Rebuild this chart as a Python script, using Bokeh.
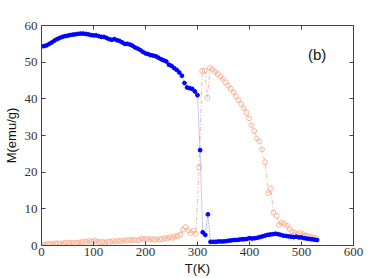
from bokeh.plotting import figure
from bokeh.models import LinearAxis, FixedTicker, Label
from bokeh.embed import file_html
from bokeh.resources import INLINE

# Blue series (filled dots)
blue_T = list(range(0, 535, 5))
blue_M = [54.3, 54.4, 54.6, 55.0, 55.4, 55.9, 56.3, 56.6, 56.9, 57.1,
          57.2, 57.4, 57.5, 57.6, 57.7, 57.8, 57.8, 57.7, 57.6, 57.4,
          57.3, 57.3, 57.1, 56.9, 56.9, 56.6, 56.3, 56.1, 56.3, 56.0,
          55.8, 55.4, 55.0, 55.0, 54.8, 54.5, 54.0, 53.7, 53.3, 52.8,
          52.4, 52.2, 51.9, 51.8, 51.6, 51.2, 50.8, 50.5, 50.2, 49.3,
          49.0, 48.4, 47.9, 47.2, 46.3, 44.3, 43.1, 42.9, 42.7, 42.0,
          41.0, 26.0, 3.6, 2.9, 8.5, 1.0, 1.0, 1.0, 1.1, 1.1,
          1.1, 1.2, 1.3, 1.4, 1.5, 1.5, 1.6, 1.7, 1.7, 1.8,
          2.0, 1.9, 2.0, 2.1, 2.3, 2.5, 2.7, 2.9, 3.0, 3.1,
          3.2, 3.1, 2.9, 2.7, 2.6, 2.5, 2.4, 2.3, 2.4, 2.2,
          2.2, 2.0, 1.9, 1.8, 1.7, 1.6, 1.5]

# Orange series (open circles)
orange_T = [2, 7, 12, 17, 22, 27, 32, 37, 42, 47, 52, 57, 62, 67, 72, 77, 82, 87, 92, 97,
            102, 107, 112, 117, 122, 127, 132, 137, 142, 147, 152, 157, 162, 167, 172, 177,
            182, 187, 192, 197, 202, 207, 212, 217, 222, 227, 232, 237, 242, 247, 252, 257,
            262, 267, 272, 277, 282, 287, 292, 297, 303, 309, 314, 319, 324, 329, 334, 339,
            344, 349, 354, 359, 364, 369, 374, 379, 384, 389, 394, 399, 404, 409, 414, 419,
            424, 430, 436, 441, 446, 452, 457, 462, 467, 472, 477, 482, 487, 493, 498, 503,
            508, 512, 517, 522, 527]
orange_M = [0.2, 0.3, 0.4, 0.5, 0.5, 0.6, 0.6, 0.5, 0.6, 0.8, 0.7, 0.7, 0.7, 0.7, 0.8, 0.9,
            1.1, 1.0, 1.2, 1.0, 1.3, 1.1, 0.9, 1.0, 0.8, 1.1, 1.0, 1.2, 1.0, 1.3, 1.2, 1.4,
            1.3, 1.5, 1.4, 1.6, 1.4, 1.5, 1.9, 1.7, 1.8, 1.6, 1.8, 1.5, 1.7, 1.6, 1.8, 2.0,
            1.9, 2.3, 2.1, 2.5, 2.6, 2.9, 4.3, 5.0, 4.2, 3.4, 4.0, 3.2, 21.3, 47.6, 47.7, 40.3,
            48.4, 48.0, 47.4, 46.8, 46.1, 45.4, 44.5, 43.6, 42.7, 41.8, 40.7, 39.6, 38.6, 37.5,
            36.2, 34.7, 32.8, 31.2, 29.2, 28.4, 26.2, 22.7, 14.3, 15.5, 9.0, 8.1, 5.6, 6.3,
            5.9, 5.4, 4.5, 3.8, 3.4, 3.1, 3.4, 3.1, 2.7, 2.5, 2.4, 2.2, 2.1]

x_ticks = [0, 100, 200, 300, 400, 500, 600]
y_ticks = [0, 10, 20, 30, 40, 50, 60]

BLUE = "#0000FF"
ORANGE = "#F8A888"
FRAME = "#444444"

p = figure(width=382, height=278, x_range=(0, 600), y_range=(0, 60),
           output_backend="svg", toolbar_location=None,
           x_axis_label="T(K)", y_axis_label="M(emu/g)",
           min_border_left=40, min_border_right=29, min_border_top=25, min_border_bottom=31)
p.background_fill_color = "white"
p.border_fill_color = "white"
p.outline_line_color = FRAME
p.outline_line_width = 1
p.grid.visible = False

for ax, ticks in ((p.xaxis[0], x_ticks), (p.yaxis[0], y_ticks)):
    ax.ticker = FixedTicker(ticks=ticks)
    ax.major_tick_in = 4
    ax.major_tick_out = 0
    ax.minor_tick_line_color = None
    ax.axis_line_color = FRAME
    ax.major_tick_line_color = FRAME
    ax.major_label_text_font = "Liberation Serif"
    ax.major_label_text_font_size = "13px"
    ax.major_label_text_color = "#333333"
    ax.axis_label_text_font = "Liberation Sans"
    ax.axis_label_text_font_size = "13px"
    ax.axis_label_text_font_style = "normal"
    ax.axis_label_text_color = "#111111"

p.xaxis[0].major_label_standoff = 2
p.xaxis[0].axis_label_standoff = 2
p.yaxis[0].major_label_standoff = 4
p.yaxis[0].axis_label_standoff = 3

top = LinearAxis(ticker=FixedTicker(ticks=x_ticks),
                 major_label_overrides={t: "" for t in x_ticks})
right = LinearAxis(ticker=FixedTicker(ticks=y_ticks),
                   major_label_overrides={t: "" for t in y_ticks})
for ax in (top, right):
    ax.major_tick_in = 4
    ax.major_tick_out = 0
    ax.minor_tick_line_color = None
    ax.axis_line_color = FRAME
    ax.major_tick_line_color = FRAME
    ax.major_label_standoff = 0
p.add_layout(top, "above")
p.add_layout(right, "right")

# orange series
p.line(orange_T, orange_M, line_color=ORANGE, line_width=0.8, line_dash="4 2 1 2")
p.scatter(orange_T, orange_M, marker="circle", size=5, line_color=ORANGE,
          fill_color=None, line_width=0.8)

# blue series
p.line(blue_T, blue_M, line_color="#6666FF", line_width=0.7, line_dash="1 1")
p.scatter(blue_T, blue_M, marker="circle", size=3.8, line_color=BLUE, fill_color=BLUE)

p.add_layout(Label(x=530, y=52.1, text="(b)", text_font="Liberation Sans",
                   text_font_size="15px", text_color="#111111",
                   text_baseline="middle", text_align="center"))

open("out.html", "w").write(file_html(p, INLINE))
